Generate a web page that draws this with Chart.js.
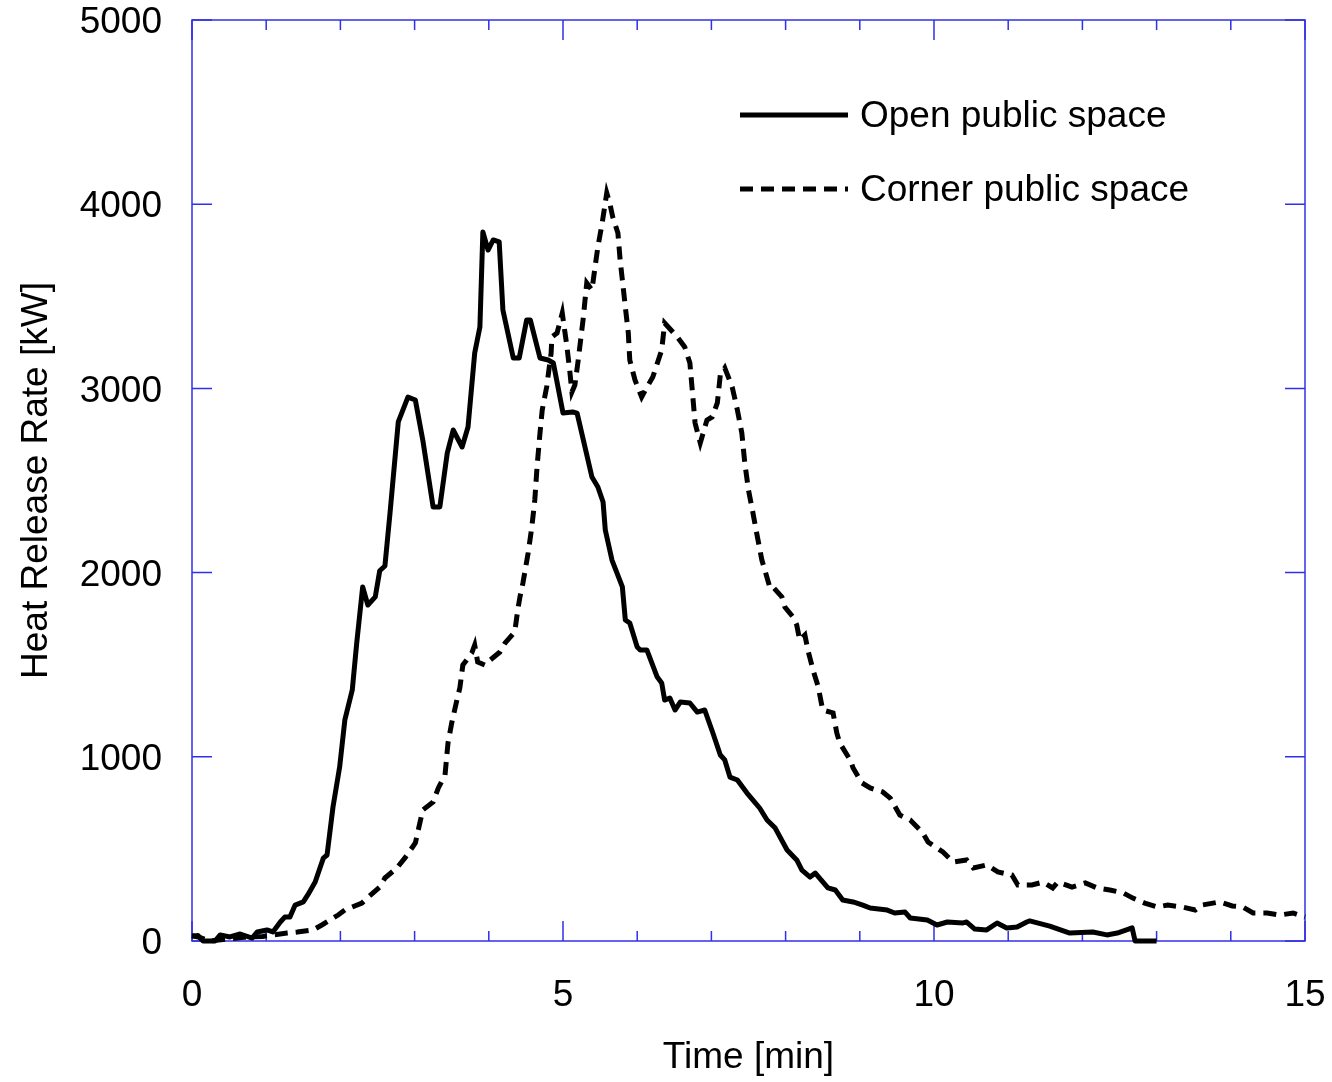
<!DOCTYPE html>
<html>
<head>
<meta charset="utf-8">
<title>Heat Release Rate</title>
<script src="https://cdn.jsdelivr.net/npm/chart.js@4.4.1/dist/chart.umd.min.js"></script>
<style>
  html, body { margin: 0; padding: 0; background: #fff; }
</style>
</head>
<body>
<canvas id="hrrChart" width="1332" height="1082"></canvas>
<script>
// time [min] and heat release rate [kW]
const openTime = [0.00, 0.08, 0.15, 0.31, 0.38, 0.51, 0.65, 0.81, 0.88, 1.01, 1.09, 1.19, 1.25, 1.32, 1.39,
    1.50, 1.56, 1.66, 1.77, 1.82, 1.90, 1.99, 2.06, 2.16, 2.22, 2.30, 2.37, 2.47, 2.53, 2.60, 2.67, 2.78,
    2.91, 3.01, 3.11, 3.25, 3.34, 3.44, 3.52, 3.64, 3.72, 3.81, 3.88, 3.92, 3.99, 4.06, 4.14, 4.19, 4.33,
    4.41, 4.51, 4.56, 4.69, 4.80, 4.87, 5.00, 5.13, 5.19, 5.39, 5.47, 5.54, 5.57, 5.66, 5.80, 5.84, 5.90,
    6.00, 6.04, 6.13, 6.27, 6.33, 6.37, 6.44, 6.51, 6.58, 6.71, 6.81, 6.91, 7.02, 7.12, 7.18, 7.25, 7.35,
    7.48, 7.56, 7.65, 7.75, 7.86, 8.02, 8.15, 8.22, 8.33, 8.40, 8.57, 8.67, 8.77, 8.91, 9.04, 9.14, 9.37,
    9.47, 9.61, 9.68, 9.91, 10.04, 10.18, 10.39, 10.44, 10.55, 10.71, 10.85, 10.98, 11.12, 11.25, 11.29,
    11.56, 11.83, 12.14, 12.33, 12.47, 12.67, 12.71, 13.00];
const openHrr = [25, 30, 0, 0, 33, 22, 38, 16, 49, 60, 49, 103, 130, 130, 195,
    212, 250, 320, 450, 467, 727, 945, 1200, 1363, 1618, 1922, 1824, 1868, 2010, 2036, 2329, 2818,
    2953, 2937, 2720, 2356, 2356, 2649, 2774, 2682, 2790, 3192, 3333, 3849, 3751, 3806, 3795, 3426, 3165,
    3165, 3371, 3371, 3165, 3154, 3138, 2866, 2872, 2866, 2519, 2465, 2383, 2231, 2068, 1922, 1743, 1726,
    1596, 1580, 1580, 1433, 1401, 1308, 1319, 1254, 1297, 1292, 1243, 1254, 1129, 1010, 983, 890, 874,
    803, 765, 722, 657, 613, 494, 440, 385, 347, 369, 288, 277, 223, 212, 195, 179, 168,
    152, 157, 125, 114, 87, 103, 98, 103, 65, 60, 98, 71, 76, 103, 109,
    81, 43, 49, 33, 43, 71, 0, 0];

const cornerTime = [0.00, 0.10, 0.25, 0.45, 0.70, 0.95, 1.28, 1.42, 1.63, 1.75, 1.97, 2.06, 2.29, 2.36, 2.53,
    2.60, 2.76, 2.87, 3.01, 3.11, 3.25, 3.32, 3.41, 3.45, 3.50, 3.57, 3.61, 3.65, 3.77, 3.81, 3.85, 3.95,
    4.02, 4.15, 4.22, 4.35, 4.39, 4.42, 4.46, 4.53, 4.58, 4.62, 4.65, 4.69, 4.72, 4.78, 4.84, 4.85, 4.92,
    4.99, 5.05, 5.09, 5.12, 5.16, 5.20, 5.27, 5.32, 5.39, 5.43, 5.47, 5.53, 5.59, 5.63, 5.67, 5.74, 5.77,
    5.80, 5.84, 5.88, 5.90, 5.97, 6.06, 6.11, 6.21, 6.33, 6.37, 6.54, 6.64, 6.71, 6.75, 6.78, 6.85, 6.94,
    7.01, 7.08, 7.12, 7.18, 7.28, 7.35, 7.41, 7.45, 7.50, 7.56, 7.61, 7.68, 7.72, 7.79, 7.83, 7.95, 7.99,
    8.10, 8.15, 8.19, 8.26, 8.30, 8.37, 8.44, 8.50, 8.64, 8.69, 8.73, 8.87, 8.91, 9.03, 9.14, 9.31, 9.41,
    9.54, 9.68, 9.85, 9.92, 10.12, 10.26, 10.44, 10.53, 10.71, 10.86, 11.05, 11.13, 11.32, 11.47, 11.60,
    11.67, 11.86, 12.04, 12.20, 12.37, 12.55, 12.68, 12.84, 13.01, 13.15, 13.34, 13.52, 13.61, 13.85,
    14.02, 14.16, 14.30, 14.49, 14.66, 14.84, 15.00];
const cornerHrr = [30, 20, 0, 10, 20, 25, 43, 49, 60, 87, 141, 168, 206, 233, 293,
    342, 396, 451, 532, 711, 755, 831, 901, 1075, 1183, 1308, 1374, 1498, 1563, 1607, 1515, 1498,
    1526, 1569, 1618, 1678, 1797, 1868, 1944, 2106, 2248, 2394, 2573, 2758, 2883, 3008, 3192, 3279, 3301,
    3409, 3236, 3100, 2980, 3018, 3138, 3371, 3572, 3534, 3654, 3768, 3903, 4061, 4007, 3931, 3844, 3697,
    3589, 3442, 3301, 3154, 3046, 2953, 2991, 3062, 3208, 3355, 3279, 3225, 3138, 2953, 2812, 2704, 2828,
    2845, 2921, 3073, 3111, 3008, 2883, 2758, 2595, 2448, 2324, 2215, 2068, 2014, 1916, 1922, 1868, 1813,
    1759, 1716, 1634, 1661, 1580, 1471, 1379, 1254, 1238, 1129, 1075, 983, 939, 858, 831, 809, 776,
    684, 657, 586, 537, 483, 429, 440, 396, 413, 375, 358, 304, 304, 320, 288,
    320, 293, 315, 288, 277, 261, 233, 206, 185, 195, 185, 168, 195, 212,
    190, 185, 152, 152, 141, 152, 130];

const seriesNames = ["Open public space", "Corner public space"];
const xTitle = "Time [min]";
const yTitle = "Heat Release Rate [kW]";

const FONT = "'Liberation Sans', Arial, Helvetica, sans-serif";
const AXIS_BLUE = "#3030e8";

function toPoints(xs, ys) {
    return xs.map((x, i) => ({ x: x, y: ys[i] }));
}

// blue box with inward ticks on all four sides
const frameTicks = {
    id: "frameTicks",
    beforeDatasetsDraw(chart) {
        const { ctx, chartArea: ca, scales } = chart;
        ctx.save();
        ctx.strokeStyle = AXIS_BLUE;
        ctx.lineWidth = 1.5;
        ctx.strokeRect(ca.left, ca.top, ca.right - ca.left, ca.bottom - ca.top);
        ctx.beginPath();
        scales.x.ticks.forEach(t => {
            const px = scales.x.getPixelForValue(t.value);
            const len = t.value % 5 === 0 ? 20 : 10;
            ctx.moveTo(px, ca.bottom);
            ctx.lineTo(px, ca.bottom - len);
            ctx.moveTo(px, ca.top);
            ctx.lineTo(px, ca.top + len);
        });
        scales.y.ticks.forEach(t => {
            const py = scales.y.getPixelForValue(t.value);
            ctx.moveTo(ca.left, py);
            ctx.lineTo(ca.left + 20, py);
            ctx.moveTo(ca.right, py);
            ctx.lineTo(ca.right - 20, py);
        });
        ctx.stroke();
        ctx.restore();
    }
};

// legend drawn inside the plot, line sample then label
const insideLegend = {
    id: "insideLegend",
    afterDraw(chart) {
        const { ctx, chartArea: ca } = chart;
        const x0 = ca.left + 548, x1 = ca.left + 656, tx = ca.left + 668;
        const rows = [ca.top + 95, ca.top + 169];
        ctx.save();
        chart.data.datasets.forEach((ds, i) => {
            const y = rows[i];
            ctx.strokeStyle = ds.borderColor;
            ctx.lineWidth = ds.borderWidth;
            ctx.setLineDash(ds.borderDash || []);
            ctx.beginPath();
            ctx.moveTo(x0, y);
            ctx.lineTo(x1, y);
            ctx.stroke();
            ctx.setLineDash([]);
            ctx.fillStyle = "#000";
            ctx.font = "37px " + FONT;
            ctx.textBaseline = "alphabetic";
            ctx.fillText(ds.label, tx, y + 12);
        });
        ctx.restore();
    }
};

const tickFont = { family: FONT, size: 37 };

new Chart(document.getElementById("hrrChart"), {
    type: "line",
    data: {
        datasets: [{
            label: seriesNames[0],
            data: toPoints(openTime, openHrr),
            borderColor: "#000",
            borderWidth: 5,
            borderJoinStyle: "round",
            pointRadius: 0,
            tension: 0,
            clip: false
        }, {
            label: seriesNames[1],
            data: toPoints(cornerTime, cornerHrr),
            borderColor: "#000",
            borderWidth: 5,
            borderDash: [13, 8],
            pointRadius: 0,
            tension: 0,
            clip: false
        }]
    },
    options: {
        responsive: false,
        animation: false,
        events: [],
        layout: { padding: { left: 0, top: 20, right: 27, bottom: 0 } },
        plugins: {
            legend: { display: false },
            tooltip: { enabled: false }
        },
        scales: {
            x: {
                type: "linear",
                min: 0,
                max: 15,
                grid: { display: false, drawTicks: false },
                border: { display: false },
                ticks: {
                    stepSize: 1,
                    autoSkip: false,
                    maxRotation: 0,
                    padding: 33,
                    color: "#000",
                    font: tickFont,
                    callback: v => (v % 5 === 0 ? String(v) : "")
                },
                title: {
                    display: true,
                    text: xTitle,
                    color: "#000",
                    font: tickFont,
                    padding: { top: 0, bottom: 2 }
                },
                afterFit: s => { s.height = 141; s.paddingLeft = 0; s.paddingRight = 0; }
            },
            y: {
                min: 0,
                max: 5000,
                grid: { display: false, drawTicks: false },
                border: { display: false },
                ticks: {
                    stepSize: 1000,
                    padding: 30,
                    labelOffset: 3,
                    color: "#000",
                    font: tickFont,
                    callback: v => String(v)
                },
                title: {
                    display: true,
                    text: yTitle,
                    color: "#000",
                    font: tickFont,
                    padding: { top: 15, bottom: 0 }
                },
                afterFit: s => { s.width = 192; s.paddingTop = 0; s.paddingBottom = 0; }
            }
        }
    },
    plugins: [frameTicks, insideLegend]
});
</script>
</body>
</html>
